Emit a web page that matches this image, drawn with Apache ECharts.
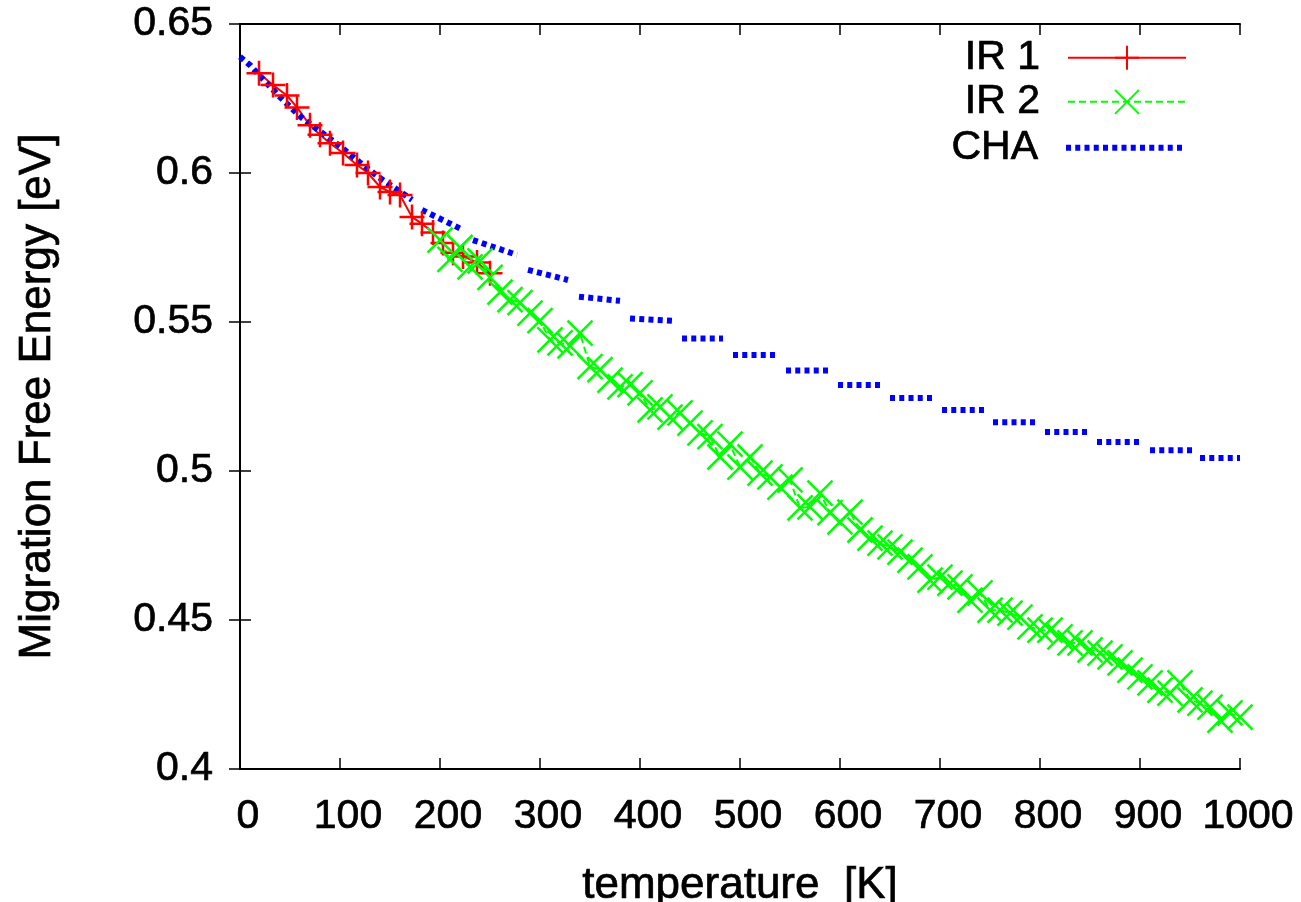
<!DOCTYPE html>
<html>
<head>
<meta charset="utf-8">
<script src="https://cdn.jsdelivr.net/npm/echarts@6/dist/echarts.min.js"></script>
<style>
  html, body { margin: 0; padding: 0; background: #fff; }
  #chart { width: 1301px; height: 902px; }
</style>
</head>
<body>
<div id="chart"></div>
<script>
// IR 1 (red, plus markers)
const irOneT = [19, 33, 47, 57, 70, 80, 90, 103, 117, 128, 140, 150, 160, 172, 182, 193, 203, 213, 223, 237, 250];
const irOneE = [0.6335, 0.6295, 0.6260, 0.6220, 0.6160, 0.6128, 0.6100, 0.6067, 0.6027, 0.6000, 0.5953,
                0.5936, 0.5926, 0.5852, 0.5830, 0.5800, 0.5765, 0.5732, 0.5720, 0.5700, 0.5664];

// IR 2 (green, cross markers), one value every 10 K from 200 to 1000
const irTwoStart = 200;
const irTwoStep = 10;
const irTwoE = [
  0.5775, 0.5710, 0.5750, 0.5685, 0.5705, 0.5650, 0.5600, 0.5575, 0.5565, 0.5530,
  0.5505, 0.5440, 0.5430, 0.5420, 0.5463, 0.5350, 0.5340, 0.5305, 0.5282, 0.5290,
  0.5262, 0.5205, 0.5215, 0.5181, 0.5195, 0.5161, 0.5128, 0.5115, 0.5047, 0.5090,
  0.5013, 0.5047, 0.4993, 0.4980, 0.4946, 0.4970, 0.4876, 0.4880, 0.4926, 0.4860,
  0.4829, 0.4862, 0.4802, 0.4775, 0.4758, 0.4745, 0.4728, 0.4701, 0.4678, 0.4634,
  0.4644, 0.4624, 0.4611, 0.4567, 0.4591, 0.4533, 0.4533, 0.4523, 0.4510, 0.4477,
  0.4466, 0.4466, 0.4443, 0.4423, 0.4423, 0.4400, 0.4389, 0.4376, 0.4356, 0.4332,
  0.4309, 0.4289, 0.4265, 0.4255, 0.4289, 0.4232, 0.4221, 0.4208, 0.4164, 0.4188,
  0.4174
];

// CHA (blue dotted): smooth low-T part, then short pieces
const chaCurveT = [0, 10, 20, 40, 60, 80, 100, 120, 140, 172];
const chaCurveE = [0.6390, 0.6362, 0.6325, 0.6255, 0.6190, 0.6140, 0.6090, 0.6035, 0.5983, 0.5910];
const chaPieceFrom = [182, 233, 288, 339, 390, 442, 493, 546, 598, 650, 702, 753, 805, 857, 910, 960];
const chaPieceTo   = [223, 277, 328, 380, 432, 483, 535, 588, 640, 692, 744, 795, 847, 900, 952, 1000];
const chaPieceE0   = [0.5876, 0.5775, 0.5675, 0.5585, 0.5512, 0.5445, 0.5389, 0.5337, 0.5289, 0.5245,
                      0.5205, 0.5164, 0.5131, 0.5097, 0.5070, 0.5044];
const chaPieceE1   = [0.5809, 0.5725, 0.5641, 0.5571, 0.5504, 0.5445, 0.5389, 0.5337, 0.5289, 0.5245,
                      0.5205, 0.5164, 0.5131, 0.5097, 0.5070, 0.5044];

const xTicks = { min: 0, max: 1000, interval: 100 };
const yTicks = { min: 0.4, max: 0.65, interval: 0.05 };

const font = 'Liberation Sans, Arial, Helvetica, sans-serif';
const plusPath = 'path://M1,0L1,2M0,1L2,1';
const crossPath = 'path://M0,0L2,2M0,2L2,0';

const irOneData = irOneT.map((t, i) => [t, irOneE[i]]);
const irTwoData = irTwoE.map((e, i) => [irTwoStart + i * irTwoStep, e]);
const chaData = chaCurveT.map((t, i) => [chaCurveT[i], chaCurveE[i]]);
chaPieceFrom.forEach((t, i) => {
    chaData.push(['-', '-']);
    chaData.push([t, chaPieceE0[i]]);
    chaData.push([chaPieceTo[i], chaPieceE1[i]]);
});

// slightly heavier text, like the original bitmap fonts
function txt(size) {
    return { fontSize: size, fontFamily: font, color: '#000', textBorderColor: '#000', textBorderWidth: 0.7 };
}

function mirrorAxis(pos, ticks) {
    return {
        type: 'value', position: pos, min: ticks.min, max: ticks.max, interval: ticks.interval,
        axisLine: { show: true, lineStyle: { color: '#000', width: 2 } },
        axisTick: { show: true, inside: true, length: 11, lineStyle: { color: '#000', width: 1.5 } },
        axisLabel: { show: false },
        splitLine: { show: false }
    };
}

function legendRow(name, top, extra) {
    return Object.assign({
        data: [name], right: 114, top: top, padding: 0, align: 'right',
        itemWidth: 118, itemHeight: 30,
        textStyle: Object.assign(txt(41), { padding: [0, 23, 0, 0] })
    }, extra || {});
}

const chart = echarts.init(document.getElementById('chart'));
chart.setOption({
    animation: false,
    backgroundColor: '#fff',
    grid: { left: 240, right: 61, top: 24, bottom: 133, outerBoundsMode: 'none' },
    legend: [
        legendRow('IR 1', 37),
        legendRow('IR 2', 81),
        legendRow('CHA', 127, { itemStyle: { opacity: 0 }, lineStyle: { width: 6 } })
    ],
    xAxis: [{
        type: 'value', position: 'bottom', min: xTicks.min, max: xTicks.max, interval: xTicks.interval,
        name: 'temperature  [K]', nameLocation: 'middle', nameGap: 95,
        nameTextStyle: txt(44),
        axisLine: { lineStyle: { color: '#000', width: 2 } },
        axisTick: { inside: true, length: 11, lineStyle: { color: '#000', width: 1.5 } },
        axisLabel: Object.assign(txt(41), { margin: 27, padding: [0, 0, 0, 16], formatter: v => String(v) }),
        splitLine: { show: false }
    }, mirrorAxis('top', xTicks)],
    yAxis: [{
        type: 'value', position: 'left', min: yTicks.min, max: yTicks.max, interval: yTicks.interval,
        name: 'Migration Free Energy [eV]', nameLocation: 'middle', nameGap: 180, nameRotate: 90,
        nameTextStyle: txt(44),
        axisLine: { lineStyle: { color: '#000', width: 2 } },
        axisTick: { inside: true, length: 11, lineStyle: { color: '#000', width: 1.5 } },
        axisLabel: Object.assign(txt(41), { margin: 27 }),
        splitLine: { show: false }
    }, mirrorAxis('right', yTicks)],
    series: [{
        name: 'IR 1', type: 'line', data: irOneData,
        symbol: plusPath, symbolSize: 25, showAllSymbol: true,
        lineStyle: { color: '#ff0000', width: 2 },
        itemStyle: { color: '#ff0000', borderColor: '#ff0000', borderWidth: 2.5 }
    }, {
        name: 'IR 2', type: 'line', data: irTwoData,
        symbol: crossPath, symbolSize: 25, showAllSymbol: true,
        lineStyle: { color: '#00ff00', width: 2, type: [7, 4] },
        itemStyle: { color: '#00ff00', borderColor: '#00ff00', borderWidth: 2.5 }
    }, {
        name: 'CHA', type: 'line', data: chaData, symbol: 'none', connectNulls: false,
        lineStyle: { color: '#0000ff', width: 6, type: [5, 4.25] },
        itemStyle: { color: '#0000ff' }
    }]
});
</script>
</body>
</html>
